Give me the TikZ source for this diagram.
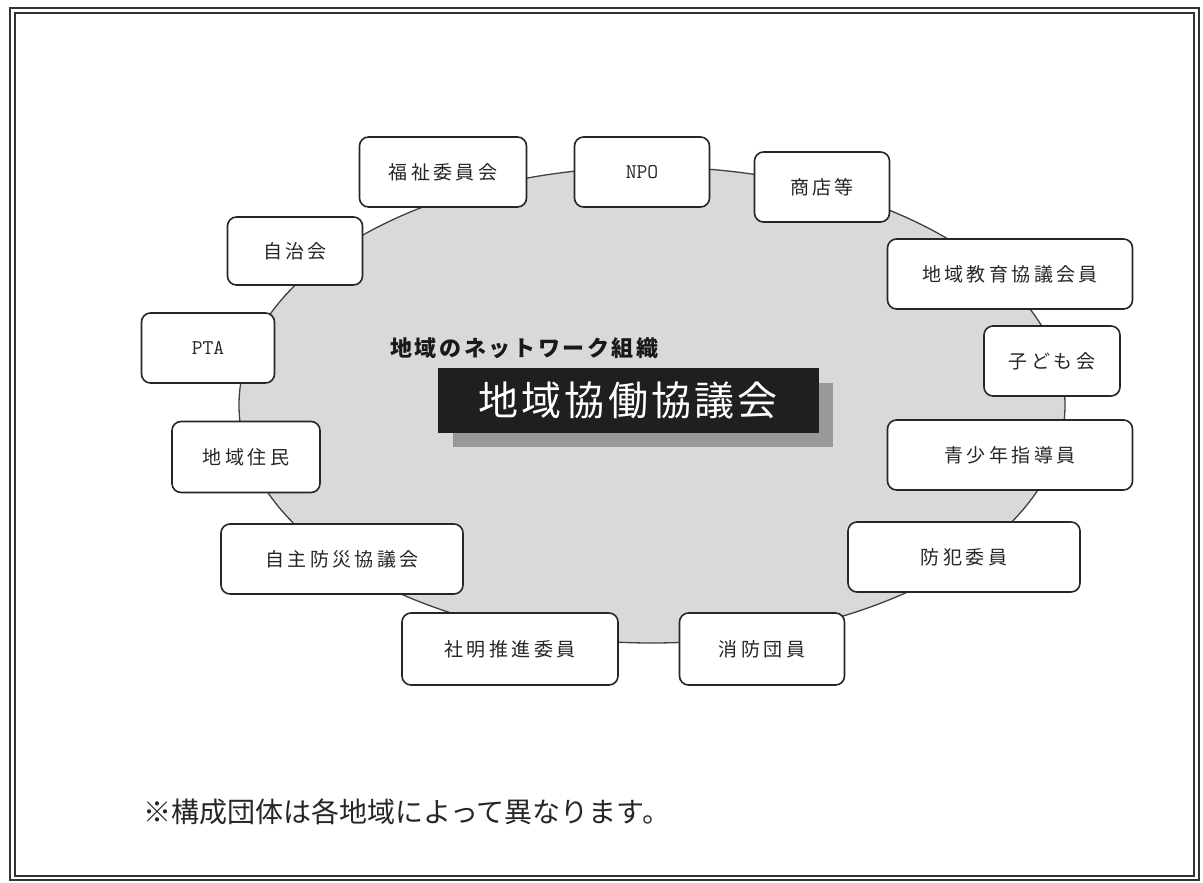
\documentclass[tikz,border=0pt]{standalone}
\usepackage{fontspec}
\usetikzlibrary{shapes.geometric}
\newfontfamily\jp{Noto Sans CJK JP}
\newfontfamily\jpls{Noto Sans CJK JP}[LetterSpace=18]
\newfontfamily\jptitle{Noto Sans CJK JP}[LetterSpace=8]
\newfontfamily\jpsub{Noto Sans CJK JP}[LetterSpace=12]
\begin{document}
\begin{tikzpicture}[x=1pt,y=-1pt,
  orgbox/.style={draw=black!85, line width=1.6pt, rounded corners=9pt, fill=white,
    inner sep=0pt, minimum height=70pt, text=black!85,
    font=\jpls\fontsize{19}{19}\selectfont},
  monobox/.style={orgbox, font=\ttfamily\fontsize{21}{21}\selectfont}]
\useasboundingbox (0,0) rectangle (1203,883);
\fill[white] (0,0) rectangle (1203,883);
% frame
\draw[line width=1.6pt, black!80] (10,8) rectangle (1199,880);
\draw[line width=1.2pt, black!80] (15,13) rectangle (1194,876);
% oval
\node[ellipse, draw=black!75, line width=1.3pt, fill=black!15,
  minimum width=826pt, minimum height=476pt, inner sep=0pt] (oval) at (652,405) {};
% title
\fill[black!40] (453,383) rectangle (833,447);
\node[fill=black!88, minimum width=381pt, minimum height=65pt, inner sep=0pt,
  text=white, font=\jptitle\fontsize{40}{40}\selectfont] (title) at (628,400) {地域協働協議会};
\node[anchor=west, inner sep=0pt, text=black!90, font=\jpsub\bfseries\fontsize{22}{22}\selectfont]
  (sub) at (390,348) {地域のネットワーク組織};
% boxes
\node[orgbox, minimum width=167pt] (fukushi) at (443,172) {福祉委員会};
\node[monobox, minimum width=135pt] (npo) at (642,172) {NPO};
\node[orgbox, minimum width=135pt] (shoten) at (822,187) {商店等};
\node[orgbox, minimum width=135pt, minimum height=68pt] (jichi) at (295,251) {自治会};
\node[orgbox, minimum width=245pt] (kyoiku) at (1010,274) {地域教育協議会員};
\node[monobox, minimum width=133pt] (pta) at (208,348) {PTA};
\node[orgbox, minimum width=136pt] (kodomo) at (1052,361) {子ども会};
\node[orgbox, minimum width=148pt, minimum height=71pt] (jumin) at (246,457) {地域住民};
\node[orgbox, minimum width=245pt] (seishonen) at (1010,455) {青少年指導員};
\node[orgbox, minimum width=242pt] (jishu) at (342,559) {自主防災協議会};
\node[orgbox, minimum width=232pt] (bohan) at (964,557) {防犯委員};
\node[orgbox, minimum width=216pt, minimum height=72pt] (shamei) at (510,649) {社明推進委員};
\node[orgbox, minimum width=165pt, minimum height=72pt] (shobo) at (762,649) {消防団員};
% note
\node[anchor=west, inner sep=0pt, text=black!85, font=\jp\fontsize{28}{28}\selectfont]
  (note) at (143,812) {※構成団体は各地域によって異なります。};
\end{tikzpicture}
\end{document}
